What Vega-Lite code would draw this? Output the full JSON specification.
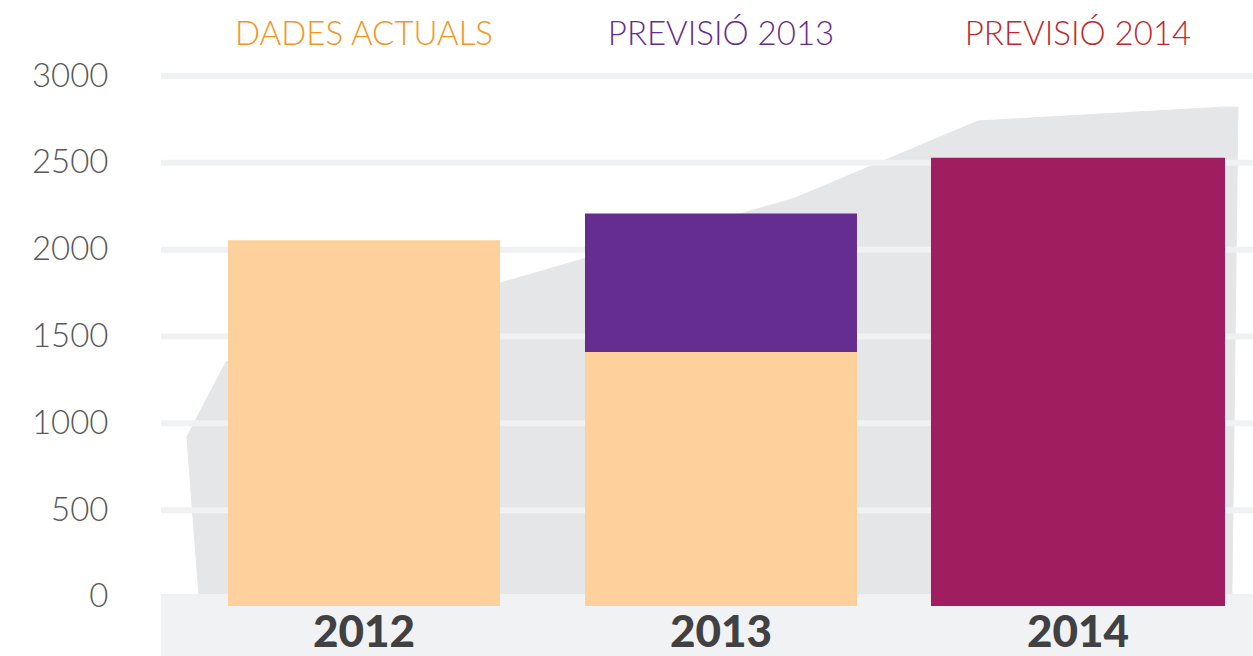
{
  "$schema": "https://vega.github.io/schema/vega-lite/v6.json",
  "width": 1092,
  "height": 656,
  "padding": {"left": 161, "top": 0, "right": 0, "bottom": 0},
  "autosize": {"type": "none"},
  "background": "#ffffff",
  "config": {"view": {"stroke": null}, "font": "Lato"},
  "datasets": {
    "bars": [
      {"year": "2012", "series": "Dades actuals", "low": 0, "high": 2054},
      {"year": "2013", "series": "Dades actuals", "low": 0, "high": 1411},
      {"year": "2013", "series": "Previsió 2013", "low": 1411, "high": 2209},
      {"year": "2014", "series": "Previsió 2014", "low": 0, "high": 2530}
    ],
    "bg": [
      {"i": 1, "t": 2011.538, "v": 0},
      {"i": 2, "t": 2011.504, "v": 921},
      {"i": 3, "t": 2011.613, "v": 1353},
      {"i": 4, "t": 2013.207, "v": 2297},
      {"i": 5, "t": 2013.72, "v": 2741},
      {"i": 6, "t": 2014.406, "v": 2821},
      {"i": 7, "t": 2014.448, "v": 2821},
      {"i": 8, "t": 2014.431, "v": 0}
    ],
    "grid": [{"v": 0}, {"v": 500}, {"v": 1000}, {"v": 1500}, {"v": 2000}, {"v": 2500}, {"v": 3000}],
    "years": [{"year": "2012"}, {"year": "2013"}, {"year": "2014"}],
    "legend": [
      {"year": "2012", "label": "DADES ACTUALS"},
      {"year": "2013", "label": "PREVISIÓ 2013"},
      {"year": "2014", "label": "PREVISIÓ 2014"}
    ]
  },
  "resolve": {"scale": {"x": "independent"}, "axis": {"y": "independent"}},
  "layer": [
    {
      "data": {"name": "bg"},
      "mark": {"type": "line", "filled": true, "fill": "#e5e6e8", "stroke": "#e5e6e8", "strokeWidth": 1},
      "encoding": {
        "x": {"field": "t", "type": "quantitative", "scale": {"domain": [2011.4314, 2014.4902], "nice": false, "zero": false}, "axis": null},
        "y": {"field": "v", "type": "quantitative", "scale": {"domain": [-340, 3438], "nice": false, "zero": false}, "axis": null},
        "order": {"field": "i", "type": "quantitative"}
      }
    },
    {
      "data": {"name": "grid"},
      "mark": {"type": "rule", "color": "#f0f1f3", "strokeWidth": 6},
      "encoding": {
        "y": {
          "field": "v", "type": "quantitative",
          "scale": {"domain": [-340, 3438], "nice": false, "zero": false},
          "axis": {"orient": "left", "values": [0, 500, 1000, 1500, 2000, 2500, 3000], "format": "d", "grid": false, "domain": false, "ticks": false, "title": null, "labelFont": "Lato", "labelFontSize": 33, "labelFontWeight": 300, "labelColor": "#58595b", "labelPadding": 53, "labelAlign": "right", "labelBaseline": "middle"}
        }
      }
    },
    {
      "data": {"values": [{"band": "base"}]},
      "mark": {"type": "rect", "color": "#f1f2f4"},
      "encoding": {
        "y": {"datum": 0, "type": "quantitative", "scale": {"domain": [-340, 3438], "nice": false, "zero": false}, "axis": null},
        "y2": {"datum": -345}
      }
    },
    {
      "data": {"name": "bars"},
      "encoding": {
        "x": {"field": "year", "type": "nominal", "scale": {"domain": ["2012", "2013", "2014"], "paddingInner": 0.2381, "paddingOuter": 0.1485, "align": 0.632}, "axis": null}
      },
      "layer": [
        {
          "transform": [{"filter": "datum.low == 0 && datum.year != '2014'"}],
          "mark": {"type": "bar"},
          "encoding": {
            "y": {"field": "high", "type": "quantitative", "scale": {"domain": [-340, 3438], "nice": false, "zero": false}, "axis": null},
            "y2": {"datum": -52},
            "color": {"field": "series", "type": "nominal", "scale": {"domain": ["Dades actuals", "Previsió 2013", "Previsió 2014", "DADES ACTUALS", "PREVISIÓ 2013", "PREVISIÓ 2014"], "range": ["#fdd09c", "#652d90", "#a01e5f", "#f7941d", "#662d91", "#c1272d"]}, "legend": null}
          }
        },
        {
          "transform": [{"filter": "datum.low > 0"}],
          "mark": {"type": "bar"},
          "encoding": {
            "y": {"field": "high", "type": "quantitative", "scale": {"domain": [-340, 3438], "nice": false, "zero": false}, "axis": null},
            "y2": {"field": "low"},
            "color": {"field": "series", "type": "nominal", "scale": {"domain": ["Dades actuals", "Previsió 2013", "Previsió 2014", "DADES ACTUALS", "PREVISIÓ 2013", "PREVISIÓ 2014"], "range": ["#fdd09c", "#652d90", "#a01e5f", "#f7941d", "#662d91", "#c1272d"]}, "legend": null}
          }
        },
        {
          "transform": [{"filter": "datum.year == '2014'"}],
          "mark": {"type": "bar", "width": {"band": 1.081}},
          "encoding": {
            "y": {"field": "high", "type": "quantitative", "scale": {"domain": [-340, 3438], "nice": false, "zero": false}, "axis": null},
            "y2": {"datum": -52},
            "color": {"field": "series", "type": "nominal", "scale": {"domain": ["Dades actuals", "Previsió 2013", "Previsió 2014", "DADES ACTUALS", "PREVISIÓ 2013", "PREVISIÓ 2014"], "range": ["#fdd09c", "#652d90", "#a01e5f", "#f7941d", "#662d91", "#c1272d"]}, "legend": null}
          }
        },
        {
          "data": {"name": "years"},
          "mark": {"type": "text", "font": "Lato", "fontSize": 44, "fontWeight": 900, "color": "#414042", "baseline": "middle", "align": "center"},
          "encoding": {
            "text": {"field": "year", "type": "nominal"},
            "y": {"datum": -213, "type": "quantitative", "scale": {"domain": [-340, 3438], "nice": false, "zero": false}, "axis": null}
          }
        },
        {
          "data": {"name": "legend"},
          "mark": {"type": "text", "font": "Lato", "fontSize": 33, "fontWeight": 300, "baseline": "middle", "align": "center"},
          "encoding": {
            "text": {"field": "label", "type": "nominal"},
            "y": {"datum": 3236, "type": "quantitative", "scale": {"domain": [-340, 3438], "nice": false, "zero": false}, "axis": null},
            "color": {"field": "label", "type": "nominal", "scale": {"domain": ["Dades actuals", "Previsió 2013", "Previsió 2014", "DADES ACTUALS", "PREVISIÓ 2013", "PREVISIÓ 2014"], "range": ["#fdd09c", "#652d90", "#a01e5f", "#f7941d", "#662d91", "#c1272d"]}, "legend": null}
          }
        }
      ]
    }
  ]
}
